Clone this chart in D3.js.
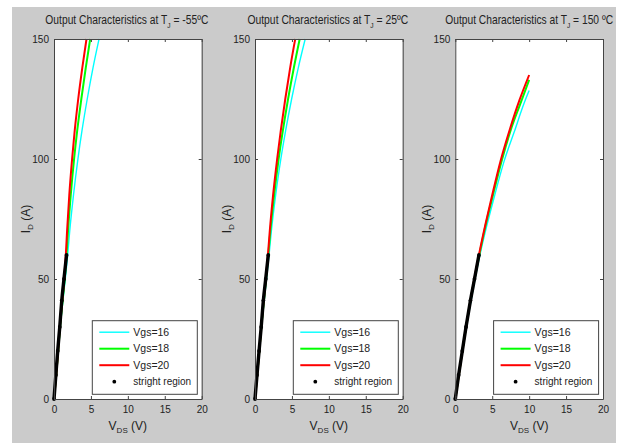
<!DOCTYPE html>
<html>
<head>
<meta charset="utf-8">
<script src="https://cdn.jsdelivr.net/npm/d3@7"></script>
<style>
  body { margin: 0; background: #fff; }
  text { font-family: "Liberation Sans", Arial, sans-serif; fill: #222; }
</style>
</head>
<body>
<div id="chart"></div>
<script>
// junction temperatures, one panel each
const temps = ['-55ºC', '25ºC', '150 ºC'];
const seriesNames = ['Vgs=16', 'Vgs=18', 'Vgs=20'];
const dotName = 'stright region';
const xTicks = [0, 5, 10, 15, 20];
const yTicks = [0, 50, 100, 150];

// Vds (V), with matching Id (A)
const idSteps = [0, 10, 30, 60, 70, 85, 100, 112, 125, 138, 150];
const vgs16V = [
  [0, 0.32, 0.85, 1.85, 2.13, 2.64, 3.24, 3.8, 4.5, 5.28, 6.1],
  [0, 0.3, 0.88, 1.9, 2.22, 2.8, 3.5, 4.16, 4.96, 5.86, 6.8],
  [0, 1, 2.1, 3.3, 4.25, 5.3, 6.6, 7.95, 9.35, 10]
];
const vgs16I = [
  idSteps,
  idSteps,
  [0, 20.5, 40.5, 59.5, 72, 84.5, 99, 111, 123.5, 128.5]
];
const vgs18V = [
  [0, 0.3, 0.82, 1.7, 1.9, 2.27, 2.72, 3.15, 3.7, 4.3, 4.9],
  [0, 0.3, 0.86, 1.8, 2.08, 2.59, 3.2, 3.78, 4.48, 5.26, 6.05],
  [0, 1, 2.05, 3.25, 4.15, 5.1, 6.35, 7.5, 8.8, 10]
];
const vgs18I = [
  idSteps,
  idSteps,
  [0, 21, 41, 60, 73, 85, 100, 112, 123, 133]
];
const vgs20V = [
  [0, 0.3, 0.8, 1.6, 1.77, 2.07, 2.45, 2.81, 3.28, 3.83, 4.4],
  [0, 0.3, 0.85, 1.75, 2.0, 2.45, 3.0, 3.5, 4.1, 4.76, 5.45],
  [0, 1, 2.05, 3.2, 4.1, 5, 6.2, 7.4, 8.7, 10]
];
const vgs20I = [
  idSteps,
  idSteps,
  [0, 21, 41, 60, 73, 85, 100, 112.5, 124.6, 135]
];
// straight (linear) region markers
const lineV = [
  [0, 0.25, 0.5, 0.78, 1.05, 1.35, 1.7],
  [0, 0.27, 0.55, 0.84, 1.13, 1.45, 1.8],
  [0, 0.45, 0.95, 1.45, 2.05, 2.6, 3.2]
];
const lineI = [0, 10, 20, 30, 41, 50, 60];

const colors = ['#00ffff', '#00ff00', '#ff0000'];
const widths = [1.4, 2, 2];

const W = 622, H = 444;
const axLeft = [54, 255, 455.3];
const axW = 147.7, axTop = 39, axBottom = 399;
const titleW = [163, 161, 168];

const svg = d3.select('#chart').append('svg')
  .attr('width', W).attr('height', H);

svg.append('rect')
  .attr('x', 12).attr('y', 7)
  .attr('width', 604).attr('height', 436)
  .attr('fill', '#cbcbcb');

const zip = (vs, is) => vs.map((v, i) => [v, is[i]]);

temps.forEach((t, p) => {
  const x = d3.scaleLinear().domain([0, 20]).range([axLeft[p], axLeft[p] + axW]);
  const y = d3.scaleLinear().domain([0, 150]).range([axBottom, axTop]);
  const g = svg.append('g');

  g.append('rect')
    .attr('x', x(0)).attr('y', y(150))
    .attr('width', axW).attr('height', axBottom - axTop)
    .attr('fill', '#fff');

  const line = d3.line().x(d => x(d[0])).y(d => y(d[1])).curve(d3.curveMonotoneX);
  const curves = [zip(vgs16V[p], vgs16I[p]), zip(vgs18V[p], vgs18I[p]), zip(vgs20V[p], vgs20I[p])];
  curves.forEach((c, i) => {
    g.append('path').datum(c)
      .attr('d', line)
      .attr('fill', 'none')
      .attr('stroke', colors[i])
      .attr('stroke-width', widths[i]);
  });

  const dots = zip(lineV[p], lineI);
  g.append('path').datum(dots)
    .attr('d', line)
    .attr('fill', 'none')
    .attr('stroke', '#000')
    .attr('stroke-width', 3.4);
  g.selectAll('.dot').data(dots).enter().append('circle')
    .attr('cx', d => x(d[0])).attr('cy', d => y(d[1]))
    .attr('r', 1.9).attr('fill', '#000');

  // axes: ticks point inward, on all four sides
  const ax = g.append('g').attr('font-size', 11);
  ax.append('g').attr('transform', `translate(0,${axBottom})`)
    .call(d3.axisBottom(x).tickValues(xTicks).tickSizeInner(-3).tickSizeOuter(0).tickPadding(7));
  ax.append('g').attr('transform', `translate(0,${axTop})`)
    .call(d3.axisTop(x).tickValues(xTicks).tickSizeInner(-3).tickSizeOuter(0).tickFormat(''));
  ax.append('g').attr('transform', `translate(${x(0)},0)`)
    .call(d3.axisLeft(y).tickValues(yTicks).tickSizeInner(-3).tickSizeOuter(0).tickPadding(5));
  ax.append('g').attr('transform', `translate(${x(20)},0)`)
    .call(d3.axisRight(y).tickValues(yTicks).tickSizeInner(-3).tickSizeOuter(0).tickFormat(''));
  ax.selectAll('.domain').attr('stroke', '#444');
  ax.selectAll('.tick line').attr('stroke', '#444');
  ax.selectAll('text').attr('fill', '#222').attr('font-family', '"Liberation Sans", Arial, sans-serif');

  // title, squeezed to the narrow width of the original
  const cx = x(10);
  const tg = g.append('g');
  const title = tg.append('text')
    .attr('x', 0).attr('y', 0).attr('text-anchor', 'middle').attr('font-size', 12.5);
  title.append('tspan').text('Output Characteristics at T');
  title.append('tspan').attr('font-size', 8).attr('dy', 4).text('J');
  title.append('tspan').attr('dy', -4).text(' = ' + t);
  const tw = title.node().getBBox().width;
  tg.attr('transform', `translate(${cx + (p === 2 ? 0 : -1)},24) scale(${titleW[p] / tw},1)`);

  // x label
  const xl = g.append('text')
    .attr('x', cx).attr('y', 430).attr('text-anchor', 'middle').attr('font-size', 12);
  xl.append('tspan').text('V');
  xl.append('tspan').attr('font-size', 8).attr('dy', 3).text('DS');
  xl.append('tspan').attr('dy', -3).text(' (V)');

  // y label
  const yl = g.append('text')
    .attr('transform', `translate(${x(0) - 24},${y(75)}) rotate(-90)`)
    .attr('text-anchor', 'middle').attr('font-size', 12);
  yl.append('tspan').text('I');
  yl.append('tspan').attr('font-size', 8).attr('dy', 3).text('D');
  yl.append('tspan').attr('dy', -3).text(' (A)');

  // legend
  const lw = 105, lh = 73.6;
  const lx = x(20) - 4.4 - lw, ly = axBottom - 4.7 - lh;
  const lg = g.append('g').attr('transform', `translate(${lx},${ly})`);
  lg.append('rect').attr('width', lw).attr('height', lh)
    .attr('fill', '#fff').attr('stroke', '#444').attr('stroke-width', 1);
  const rowY = [11.5, 28, 44.5, 61];
  seriesNames.forEach((n, i) => {
    lg.append('line').attr('x1', 7).attr('x2', 37).attr('y1', rowY[i]).attr('y2', rowY[i])
      .attr('stroke', colors[i]).attr('stroke-width', widths[i]);
    lg.append('text').attr('x', 41).attr('y', rowY[i] + 3.8).attr('font-size', 10.5).text(n);
  });
  lg.append('circle').attr('cx', 22).attr('cy', rowY[3]).attr('r', 1.9).attr('fill', '#000');
  lg.append('text').attr('x', 41).attr('y', rowY[3] + 3.8).attr('font-size', 10).text(dotName);
});
</script>
</body>
</html>
